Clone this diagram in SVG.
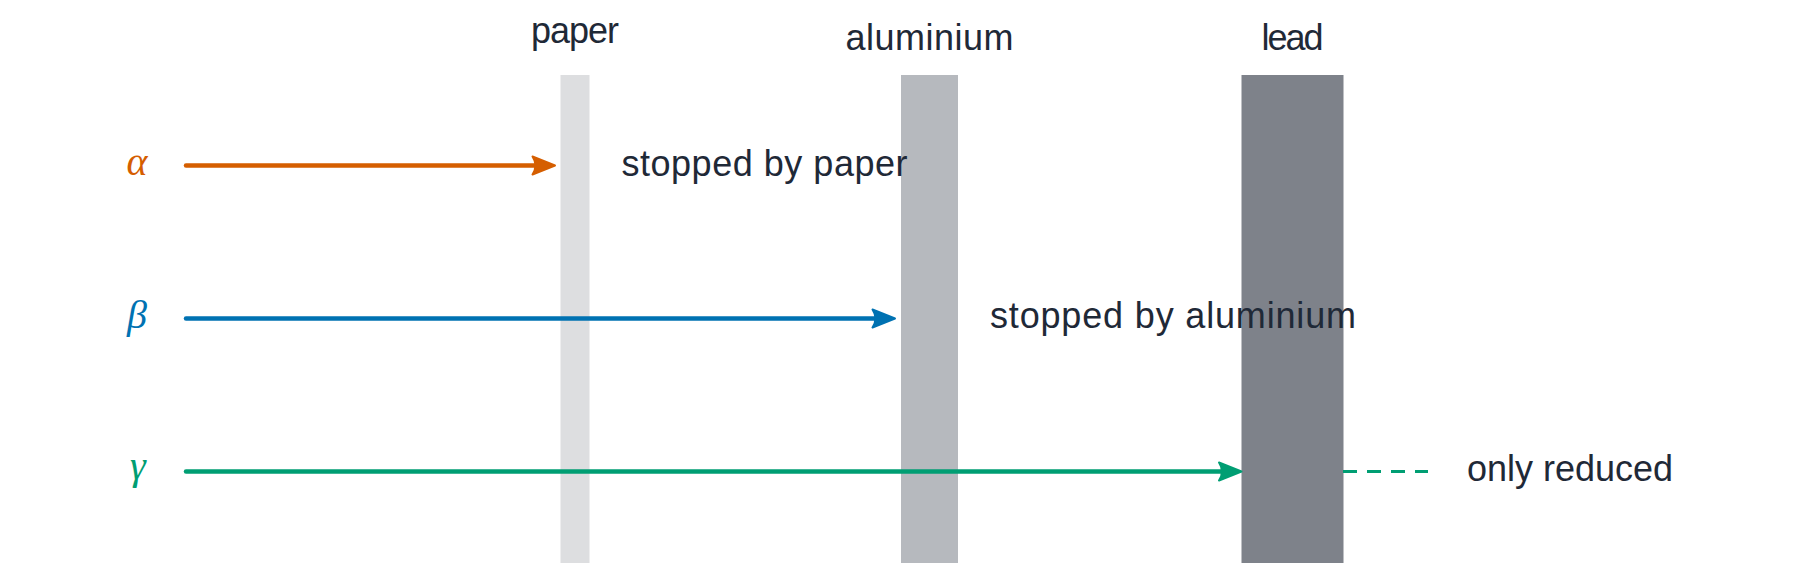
<svg xmlns="http://www.w3.org/2000/svg" width="1800" height="571" viewBox="0 0 1800 571">
  <style>
    .lbl { font-family: "Liberation Sans", Arial, sans-serif; font-size: 36px; fill: #1f2937; }
    .greek { font-family: "Liberation Serif", "DejaVu Serif", serif; font-style: italic; font-size: 40px; }
    .ray { fill: none; stroke-width: 4.5; stroke-linecap: round; }
    .dash { fill: none; stroke: #009e73; stroke-width: 3; stroke-dasharray: 14 10; }
  </style>
  <defs>
    <marker id="hA" markerUnits="userSpaceOnUse" viewBox="0 0 24 20" refX="12" refY="10" markerWidth="24" markerHeight="20" orient="auto" overflow="visible">
      <path d="M23,10 L0.5,1 Q6.5,10 0.5,19 Z" fill="#d55e00" stroke="#d55e00" stroke-width="2" stroke-linejoin="round"/>
    </marker>
    <marker id="hB" markerUnits="userSpaceOnUse" viewBox="0 0 24 20" refX="12" refY="10" markerWidth="24" markerHeight="20" orient="auto" overflow="visible">
      <path d="M23,10 L0.5,1 Q6.5,10 0.5,19 Z" fill="#0072b2" stroke="#0072b2" stroke-width="2" stroke-linejoin="round"/>
    </marker>
    <marker id="hG" markerUnits="userSpaceOnUse" viewBox="0 0 24 20" refX="12" refY="10" markerWidth="24" markerHeight="20" orient="auto" overflow="visible">
      <path d="M23,10 L0.5,1 Q6.5,10 0.5,19 Z" fill="#009e73" stroke="#009e73" stroke-width="2" stroke-linejoin="round"/>
    </marker>
  </defs>
  <rect width="1800" height="571" fill="#ffffff"/>

  <g id="paper">
    <rect x="560.5" y="75" width="29" height="488" fill="#dddee0"/>
    <text class="lbl" x="575" y="43" text-anchor="middle" textLength="88">paper</text>
  </g>
  <g id="aluminium">
    <rect x="901" y="75" width="57" height="488" fill="#b6b9be"/>
    <text class="lbl" x="929.5" y="50" text-anchor="middle" textLength="168">aluminium</text>
  </g>
  <g id="lead">
    <rect x="1241.5" y="75" width="102" height="488" fill="#7e828a"/>
    <text class="lbl" x="1292.5" y="50" text-anchor="middle" textLength="62">lead</text>
  </g>

  <g id="connectors">
    <path class="ray" d="M186,165.5 H544" stroke="#d55e00" marker-end="url(#hA)"/>
    <path class="ray" d="M186,318.5 H884" stroke="#0072b2" marker-end="url(#hB)"/>
    <path class="ray" d="M186,471.5 H1230.5" stroke="#009e73" marker-end="url(#hG)"/>
    <path class="dash" d="M1343,471.5 H1428"/>
  </g>

  <g id="alpha">
    <text class="greek" x="137" y="175" text-anchor="middle" fill="#d55e00">α</text>
  </g>
  <g id="beta">
    <text class="greek" x="137" y="328" text-anchor="middle" fill="#0072b2">β</text>
  </g>
  <g id="gamma">
    <text class="greek" x="138" y="479" text-anchor="middle" fill="#009e73">γ</text>
  </g>

  <g id="note-alpha">
    <text class="lbl" x="621.5" y="176" textLength="286">stopped by paper</text>
  </g>
  <g id="note-beta">
    <text class="lbl" x="990" y="328" textLength="366">stopped by aluminium</text>
  </g>
  <g id="note-gamma">
    <text class="lbl" x="1467" y="481" textLength="206">only reduced</text>
  </g>
</svg>
